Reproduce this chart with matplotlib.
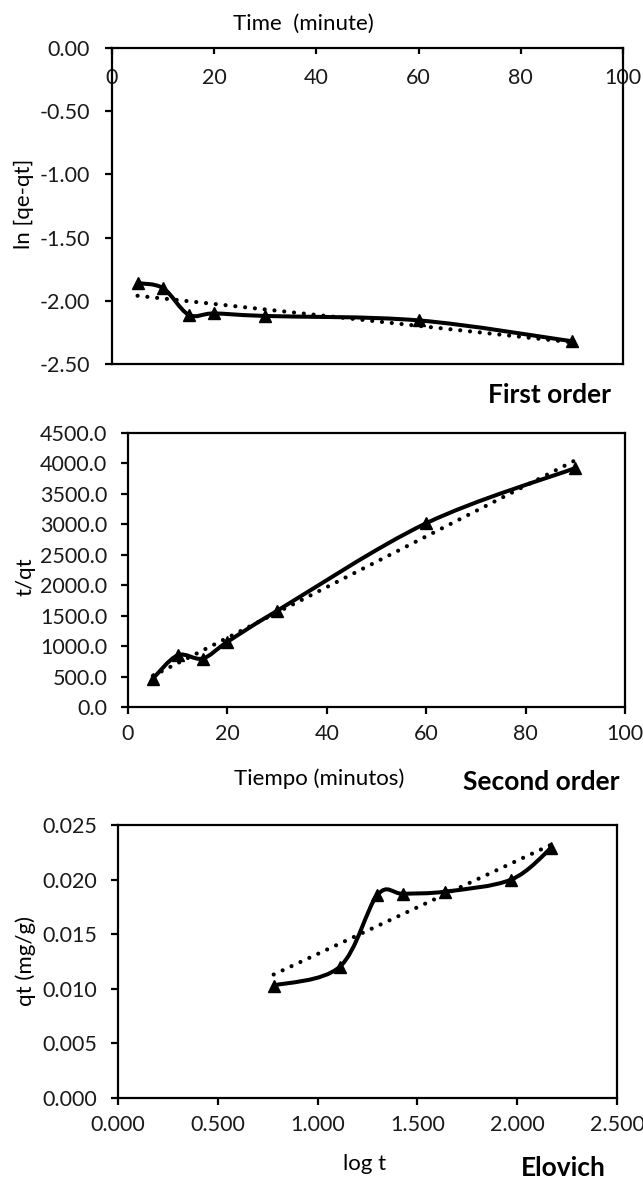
import numpy as np
import matplotlib
matplotlib.use("Agg")
import matplotlib.pyplot as plt
from matplotlib.path import Path
from matplotlib.patches import PathPatch

plt.rcParams['font.family'] = ['Lato', 'DejaVu Sans']

# ---- data ----
time_min = [5, 10, 15, 20, 30, 60, 90]

ln_qe_qt = [-1.86, -1.90, -2.11, -2.10, -2.12, -2.155, -2.32]
t_over_qt = [466, 850, 796, 1070, 1580, 3018, 3924]

log_t = [0.78, 1.11, 1.30, 1.43, 1.64, 1.97, 2.17]
qt_mg_g = [0.0103, 0.0120, 0.0186, 0.0187, 0.0189, 0.0200, 0.0229]

time_ticks = [0, 20, 40, 60, 80, 100]
ln_ticks = [0.0, -0.5, -1.0, -1.5, -2.0, -2.5]
ln_ticklabels = ["0.00", "-0.50", "-1.00", "-1.50", "-2.00", "-2.50"]
tq_ticks = [0, 500, 1000, 1500, 2000, 2500, 3000, 3500, 4000, 4500]
tq_ticklabels = [f"{v:.1f}" for v in tq_ticks]
logt_ticks = [0.0, 0.5, 1.0, 1.5, 2.0, 2.5]
logt_ticklabels = ["0.000", "0.500", "1.000", "1.500", "2.000", "2.500"]
qt_ticks = [0.0, 0.005, 0.010, 0.015, 0.020, 0.025]
qt_ticklabels = ["0.000", "0.005", "0.010", "0.015", "0.020", "0.025"]

TICK_FS = 15.5
LABEL_FS = 16
NAME_FS = 19
W, H = 643, 1180


def fx(px):
    return px / W


def fy(py):
    return 1 - py / H


def smooth_line(ax, x, y, **kw):
    """Bezier curve through the points with Catmull-Rom style tangents,
    computed in display space so the shape follows the drawn axes."""
    ax.figure.canvas.draw()
    pts = ax.transData.transform(np.column_stack([x, y]))
    n = len(pts)
    verts = [pts[0]]
    codes = [Path.MOVETO]
    for i in range(n - 1):
        p0 = pts[i - 1] if i > 0 else pts[i]
        p1 = pts[i]
        p2 = pts[i + 1]
        p3 = pts[i + 2] if i + 2 < n else pts[i + 1]
        c1 = p1 + (p2 - p0) / 6.0
        c2 = p2 - (p3 - p1) / 6.0
        verts += [c1, c2, p2]
        codes += [Path.CURVE4] * 3
    inv = ax.transData.inverted()
    path = Path(inv.transform(np.array(verts)), codes)
    patch = PathPatch(path, facecolor='none', edgecolor='black',
                      transform=ax.transData, capstyle='round',
                      joinstyle='round', **kw)
    ax.add_patch(patch)


def trend(ax, x, y):
    k, b = np.polyfit(x, y, 1)
    xs = np.array([x[0], x[-1]])
    ax.plot(xs, k * xs + b, color='black', lw=3.0,
            linestyle=(0, (0.01, 2.35)), dash_capstyle='round', zorder=2)


def style(ax):
    for s in ax.spines.values():
        s.set_linewidth(1.6)
        s.set_color('black')
    ax.tick_params(labelsize=TICK_FS, width=1.6, length=5, colors='black',
                   labelcolor='#1a1a1a')


def series(ax, x, y):
    trend(ax, x, y)
    ax.plot(x, y, linestyle='none', marker='^', ms=8.5, color='black',
            zorder=4)
    smooth_line(ax, x, y, lw=2.9, zorder=3)


fig = plt.figure(figsize=(6.43, 11.8), dpi=100)

# ---- First order ----
ax1 = fig.add_axes([fx(112), fy(364), fx(623 - 112), (364 - 48) / H])
ax1.set_xlim(0, 100)
ax1.set_ylim(-2.5, 0.0)
series(ax1, time_min, ln_qe_qt)
style(ax1)
ax1.set_yticks(ln_ticks)
ax1.set_yticklabels(ln_ticklabels)
ax1.set_xticks(time_ticks)
ax1.set_xticklabels([str(v) for v in time_ticks])
ax1.tick_params(axis='y', direction='out', right=False, pad=11)
ax1.tick_params(axis='x', top=True, bottom=False, labeltop=True,
                labelbottom=False, direction='in', length=4, pad=-29)
fig.text(fx(24), fy(204), "ln [qe-qt]", fontsize=LABEL_FS, rotation=90,
         ha='center', va='center')
fig.text(fx(303), fy(24), "Time  (minute)", fontsize=LABEL_FS,
         ha='center', va='center')
fig.text(fx(550), fy(395), "First order", fontsize=NAME_FS,
         fontweight='bold', ha='center', va='center')

# ---- Second order ----
ax2 = fig.add_axes([fx(128), fy(707), fx(625 - 128), (707 - 433) / H])
ax2.set_xlim(0, 100)
ax2.set_ylim(0, 4500)
series(ax2, time_min, t_over_qt)
style(ax2)
ax2.set_yticks(tq_ticks)
ax2.set_yticklabels(tq_ticklabels)
ax2.set_xticks(time_ticks)
ax2.set_xticklabels([str(v) for v in time_ticks])
ax2.tick_params(direction='out')
ax2.tick_params(axis='x', pad=7)
ax2.tick_params(axis='y', pad=10)
fig.text(fx(25), fy(577), "t/qt", fontsize=LABEL_FS, rotation=90,
         ha='center', va='center')
fig.text(fx(319), fy(779), "Tiempo (minutos)", fontsize=LABEL_FS,
         ha='center', va='center')
fig.text(fx(541), fy(782), "Second order", fontsize=NAME_FS,
         fontweight='bold', ha='center', va='center')

# ---- Elovich ----
ax3 = fig.add_axes([fx(118), fy(1098), fx(617 - 118), (1098 - 825) / H])
ax3.set_xlim(0, 2.5)
ax3.set_ylim(0, 0.025)
series(ax3, log_t, qt_mg_g)
style(ax3)
ax3.set_yticks(qt_ticks)
ax3.set_yticklabels(qt_ticklabels)
ax3.set_xticks(logt_ticks)
ax3.set_xticklabels(logt_ticklabels)
ax3.tick_params(direction='out')
ax3.tick_params(axis='x', pad=7)
ax3.tick_params(axis='y', pad=10)
fig.text(fx(26), fy(961), "qt (mg/g)", fontsize=LABEL_FS, rotation=90,
         ha='center', va='center')
fig.text(fx(365), fy(1164), "log t", fontsize=LABEL_FS,
         ha='center', va='center')
fig.text(fx(563), fy(1168), "Elovich", fontsize=NAME_FS,
         fontweight='bold', ha='center', va='center')

fig.savefig("out.png", dpi=100, facecolor='white')
